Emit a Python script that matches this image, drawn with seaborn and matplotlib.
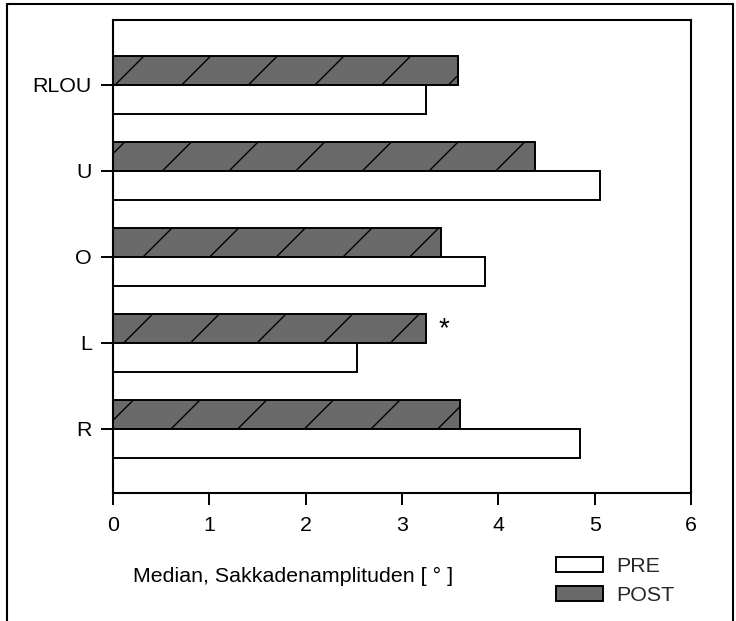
import matplotlib
matplotlib.use("Agg")
import matplotlib.pyplot as plt
import seaborn as sns
import pandas as pd
from matplotlib.patches import Patch
from matplotlib.lines import Line2D

categories = ["RLOU", "U", "O", "L", "R"]
pre_values = [3.25, 5.06, 3.86, 2.53, 4.85]
post_values = [3.58, 4.38, 3.41, 3.25, 3.60]
xticks = [0, 1, 2, 3, 4, 5, 6]
xlabel = "Median, Sakkadenamplituden [ ° ]"
legend_labels = ["PRE", "POST"]

sns.set_theme(style="white")
plt.rcParams["font.family"] = ["Liberation Sans", "DejaVu Sans"]
plt.rcParams["hatch.linewidth"] = 0.5
plt.rcParams["hatch.color"] = "black"

df = pd.DataFrame({
    "cat": categories * 2,
    "val": post_values + pre_values,
    "phase": ["POST"] * len(categories) + ["PRE"] * len(categories),
})

post_col = "#6a6a6a"
pre_col = "white"
fs = 7.7

fig = plt.figure(figsize=(3.68, 3.105), dpi=200)
ax = fig.add_axes([113 / 736, 1 - 493 / 621, (691 - 113) / 736, (493 - 20) / 621])

sns.barplot(data=df, x="val", y="cat", hue="phase", hue_order=["POST", "PRE"],
            order=categories, palette={"POST": post_col, "PRE": pre_col},
            orient="h", width=0.674, edgecolor="black", linewidth=0.7,
            legend=False, ax=ax, errorbar=None)

for bar in ax.containers[0]:
    bar.set_hatch("/")

ax.set_xlim(0, 6)
ax.set_ylim(4.745, -0.755)
ax.set_xticks(xticks)
ax.set_xticklabels([str(t) for t in xticks])
ax.set_xlabel("")
ax.set_ylabel("")
for s in ax.spines.values():
    s.set_visible(True)
    s.set_color("black")
    s.set_linewidth(0.75)
ax.tick_params(axis="both", direction="out", length=4.3, width=0.7, colors="black",
               labelsize=fs, labelcolor="black")
ax.tick_params(axis="x", bottom=True, pad=4.0)
ax.tick_params(axis="y", left=True, pad=3.3)
ax.grid(False)

ax.text(3.43, 2.84, "*", ha="center", va="center", fontsize=10, color="black")

fig.text(133 / 736, 1 - 576 / 621, xlabel, ha="left", va="center", fontsize=fs, color="black")

handles = [Patch(facecolor=pre_col, edgecolor="black", linewidth=0.7),
           Patch(facecolor=post_col, edgecolor="black", linewidth=0.7)]
fig.legend(handles, legend_labels, loc="center left",
           bbox_to_anchor=(556 / 736, 1 - 581 / 621), frameon=False, fontsize=fs,
           handlelength=2.2, handleheight=0.7, handletextpad=0.6, labelspacing=0.45,
           borderpad=0, borderaxespad=0)

# outer frame
fig.add_artist(Line2D([7 / 736, 7 / 736], [0, 1 - 4 / 621], transform=fig.transFigure,
                      color="black", linewidth=0.75))
fig.add_artist(Line2D([7 / 736, 733 / 736], [1 - 4 / 621, 1 - 4 / 621], transform=fig.transFigure,
                      color="black", linewidth=0.75))
fig.add_artist(Line2D([733 / 736, 733 / 736], [0, 1 - 4 / 621], transform=fig.transFigure,
                      color="black", linewidth=0.75))

fig.savefig("out.png", dpi=200)
